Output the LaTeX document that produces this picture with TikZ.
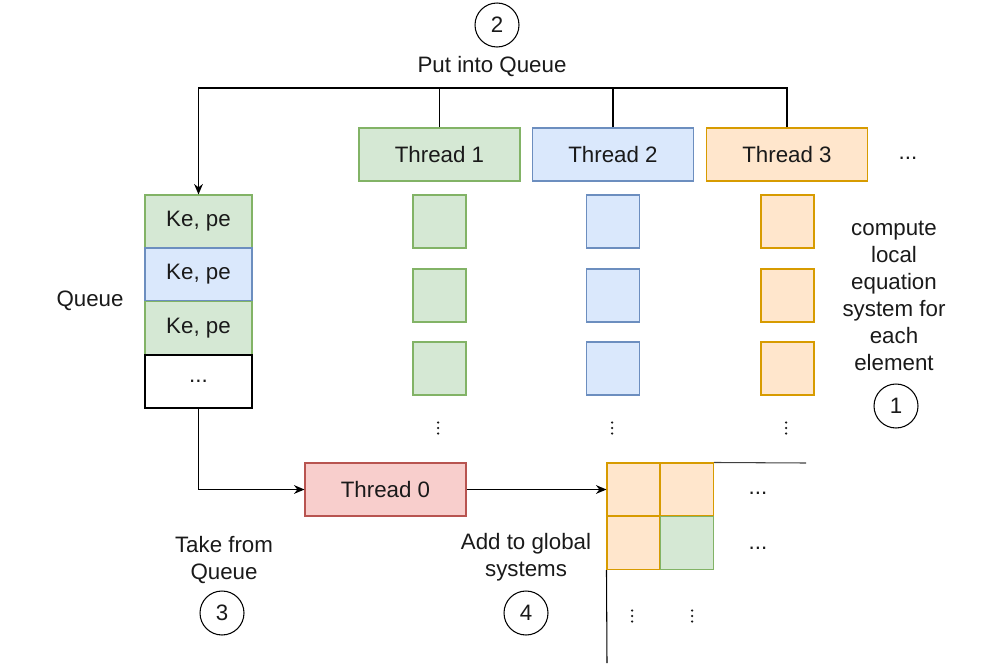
\documentclass[tikz,border=0pt]{standalone}
\usepackage{fontspec}
\setmainfont{Liberation Sans}
\usetikzlibrary{arrows.meta}
\definecolor{gfill}{HTML}{D5E8D4}\definecolor{gdraw}{HTML}{82B366}
\definecolor{bfill}{HTML}{DAE8FC}\definecolor{bdraw}{HTML}{6C8EBF}
\definecolor{ofill}{HTML}{FFE6CC}\definecolor{odraw}{HTML}{D79B00}
\definecolor{rfill}{HTML}{F8CECC}\definecolor{rdraw}{HTML}{B85450}
\definecolor{txt}{HTML}{1A1A1A}
\newcommand{\vdotsat}[3]{\coordinate (#1) at (#2,#3);
  \fill[txt] (#1) ++(0,-5.5) circle (1.25) (#1) circle (1.25) (#1) ++(0,5.5) circle (1.25);}
\begin{document}
\begin{tikzpicture}[x=0.02cm,y=-0.02cm,
  every node/.style={font=\fontsize{12.7}{15.3}\selectfont, text=txt, inner sep=0pt},
  thr/.style={draw, line width=0.6pt, minimum width=3.22cm, minimum height=1.06cm},
  sq/.style={draw, line width=0.6pt, minimum width=1.06cm, minimum height=1.06cm},
  qc/.style={draw, line width=0.6pt, minimum width=2.14cm, minimum height=1.06cm},
  G/.style={fill=gfill, draw=gdraw}, B/.style={fill=bfill, draw=bdraw},
  O/.style={fill=ofill, draw=odraw}, R/.style={fill=rfill, draw=rdraw},
  num/.style={draw, circle, line width=0.6pt, minimum size=0.88cm},
  con/.style={line width=0.6pt},
  arr/.style={con, -{Stealth[length=6pt,width=5pt]}}]
\useasboundingbox (0,0) rectangle (1000,666);
% threads
\node[thr,G] (t1) at (439.5,154.5) {Thread 1};
\node[thr,B] (t2) at (613,154.5) {Thread 2};
\node[thr,O] (t3) at (787,154.5) {Thread 3};
\node (tdots) at (908,158) {...};
% element squares
\foreach \y [count=\i] in {221.5,295.5,368.5}{
  \node[sq,G] (a\i) at (439.5,\y) {};
  \node[sq,B] (b\i) at (613,\y) {};
  \node[sq,O] (c\i) at (787.5,\y) {};
}
\vdotsat{ad}{438}{428}
\vdotsat{bd}{612}{428}
\vdotsat{cd}{786}{428}
% queue
\node[qc,G] (q1) at (198.5,221.5) {Ke, pe};
\node[qc,B] (q2) at (198.5,274.5) {Ke, pe};
\node[qc,G] (q3) at (198.5,328) {Ke, pe};
\node[qc,draw=black,fill=white] (q4) at (198.5,381.5) {...};
\node (ql) at (90,301) {Queue};
% top connectors
\node[num] (n2) at (497,25) {2};
\node (put) at (492,67) {Put into Queue};
\coordinate (bus) at (198.5,88);
\draw[arr] (t3.north) |- (bus) -- (q1.north);
\draw[con] (t1.north) -- (t1.north |- bus);
\draw[con] (t2.north) -- (t2.north |- bus);
% thread 0
\node[thr,R] (t0) at (385.5,489.5) {Thread 0};
% matrix
\node[sq,O] (m11) at (633.5,489.5) {};
\node[sq,O] (m12) at (687,489.5) {};
\node[sq,O] (m21) at (633.5,543) {};
\node[sq,G] (m22) at (687,543) {};
\coordinate (mtop) at (806,463);
\coordinate (mbot) at (607,663);
\draw[con, draw=black!75] (m12.north east) -- (mtop);
\draw[con] (m21.south west) -- (mbot);
\node (md1) at (758,493) {...};
\node (md2) at (758,548) {...};
\vdotsat{mv1}{632}{616}
\vdotsat{mv2}{692}{616}
% bottom connectors
\draw[arr] (q4.south) |- (t0.west);
\draw[arr] (t0.east) -- (m11.west);
% labels
\node[align=center] (comp) at (894,296) {compute\\local\\equation\\system for\\each\\element};
\node[num] (n1) at (896,406) {1};
\node[align=center] (take) at (224,560) {Take from\\Queue};
\node[num] (n3) at (222,613) {3};
\node[align=center] (add) at (526,557) {Add to global\\systems};
\node[num] (n4) at (526,613) {4};
\end{tikzpicture}
\end{document}
